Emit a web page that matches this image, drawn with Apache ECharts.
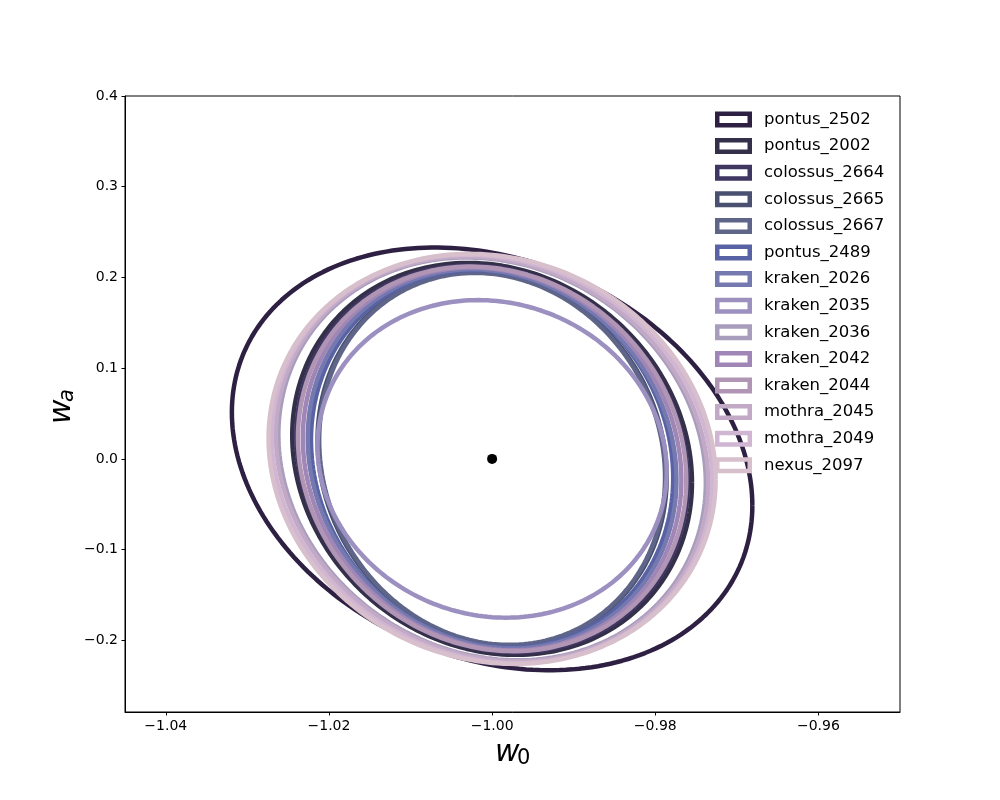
<!DOCTYPE html>
<html>
<head>
<meta charset="utf-8">
<script src="https://cdn.jsdelivr.net/npm/echarts@6/dist/echarts.min.js"></script>
<style>
  html, body { margin: 0; padding: 0; background: #fff; }
  #chart { width: 1000px; height: 800px; }
</style>
</head>
<body>
<div id="chart"></div>
<script>
// ellipse names, colours and shape (half-width in w0, half-height in wa, correlation)
var names = ['pontus_2502', 'pontus_2002', 'colossus_2664', 'colossus_2665', 'colossus_2667',
    'pontus_2489', 'kraken_2026', 'kraken_2035', 'kraken_2036', 'kraken_2042',
    'kraken_2044', 'mothra_2045', 'mothra_2049', 'nexus_2097'];
var colors = ['#2e2042', '#34304a', '#3f3762', '#4a5170', '#5e6589',
    '#5862a4', '#7479b0', '#9c90c0', '#a89dbd', '#a086b6',
    '#b195b5', '#c2aac6', '#d0b6d3', '#d8bfcc'];
var sigmaW0 = [0.0319, 0.0245, 0.0240, 0.0214, 0.0212,
    0.0222, 0.0226, 0.0214, 0.0262, 0.0232,
    0.0238, 0.0265, 0.0270, 0.0274];
var sigmaWa = [0.233, 0.216, 0.213, 0.206, 0.205,
    0.208, 0.209, 0.175, 0.222, 0.211,
    0.212, 0.223, 0.225, 0.226];
var rhos = [-0.22, -0.12, -0.12, -0.10, -0.10,
    -0.10, -0.11, -0.08, -0.12, -0.11,
    -0.11, -0.12, -0.11, -0.10];
var fiducial = [-1.0, 0.0];
var xTicks = [-1.04, -1.02, -1.00, -0.98, -0.96];
var yTicks = [-0.2, -0.1, 0.0, 0.1, 0.2, 0.3, 0.4];

// outline of each ellipse from its shape parameters
var ellipse = function (sx, sy, rho) {
    var pts = [];
    var n = 240;
    for (var i = 0; i <= n; i++) {
        var t = 2 * Math.PI * i / n;
        pts.push([fiducial[0] + sx * Math.cos(t),
            fiducial[1] + sy * (rho * Math.cos(t) + Math.sqrt(1 - rho * rho) * Math.sin(t))]);
    }
    return pts;
};

var minus = function (s) {
    return s.replace('-', '\u2212');
};

var series = [];
names.forEach(function (name, i) {
    series.push({
        name: name,
        type: 'line',
        data: ellipse(sigmaW0[i], sigmaWa[i], rhos[i]),
        showSymbol: false,
        smooth: false,
        silent: true,
        itemStyle: {color: colors[i]},
        lineStyle: {color: colors[i], width: 4.5}
    });
});
series.push({
    type: 'scatter',
    data: [fiducial],
    symbolSize: 10,
    itemStyle: {color: '#000', opacity: 1},
    silent: true
});

var myChart = echarts.init(document.getElementById('chart'));
myChart.setOption({
    animation: false,
    backgroundColor: '#fff',
    grid: {
        left: 125, right: 100, top: 96, bottom: 88,
        show: true, borderColor: '#000', borderWidth: 1
    },
    legend: {
        data: names,
        orient: 'vertical',
        left: 715,
        top: 111,
        padding: 0,
        itemWidth: 37,
        itemHeight: 16,
        itemGap: 9.6,
        icon: 'path://M0,0 H37 V16 H0 Z M4.5,4.5 V11.5 H32.5 V4.5 Z',
        textStyle: {fontFamily: 'DejaVu Sans', fontSize: 16.5, color: '#000', padding: [0, 0, 0, 7]}
    },
    xAxis: {
        type: 'value',
        min: -1.045,
        max: -0.95,
        axisLine: {onZero: false, lineStyle: {color: '#000'}},
        axisTick: {show: true, length: 3.5, customValues: xTicks, lineStyle: {color: '#000'}},
        axisLabel: {
            customValues: xTicks,
            fontFamily: 'DejaVu Sans', fontSize: 14, color: '#000', margin: 7,
            formatter: function (v) { return minus(v.toFixed(2)); }
        },
        splitLine: {show: false}
    },
    yAxis: {
        type: 'value',
        min: -0.279,
        max: 0.4,
        axisLine: {show: true, onZero: false, lineStyle: {color: '#000'}},
        axisTick: {show: true, length: 3.5, customValues: yTicks, lineStyle: {color: '#000'}},
        axisLabel: {
            customValues: yTicks,
            fontFamily: 'DejaVu Sans', fontSize: 14, color: '#000', margin: 7,
            formatter: function (v) { return minus(v.toFixed(1)); }
        },
        splitLine: {show: false}
    },
    graphic: [
        {
            type: 'group', left: 495, top: 738,
            children: [
                {type: 'text', x: 0, y: 0, style: {text: 'w', font: 'italic 30px "DejaVu Sans"', fill: '#000'}},
                {type: 'text', x: 22, y: 10, style: {text: '0', font: '21px "DejaVu Sans"', fill: '#000'}}
            ]
        },
        {
            type: 'group', x: 47, y: 424, rotation: Math.PI / 2,
            children: [
                {type: 'text', x: 0, y: 0, style: {text: 'w', font: 'italic 30px "DejaVu Sans"', fill: '#000'}},
                {type: 'text', x: 22, y: 10, style: {text: 'a', font: 'italic 21px "DejaVu Sans"', fill: '#000'}}
            ]
        }
    ],
    series: series
});
</script>
</body>
</html>
